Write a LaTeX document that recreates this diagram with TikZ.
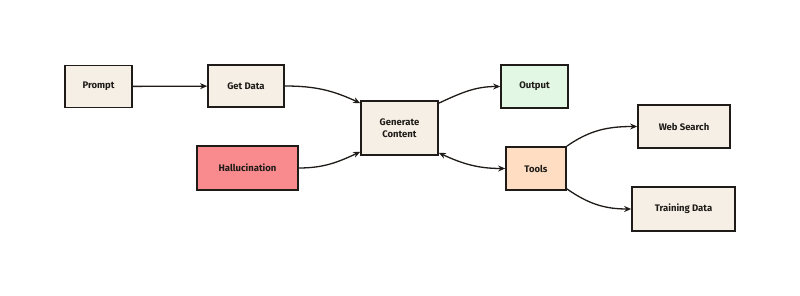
\documentclass[tikz,border=0pt]{standalone}
\usepackage{fontspec}
\setmainfont{Fira Sans}
\usetikzlibrary{arrows.meta}
\definecolor{beige}{HTML}{F6EFE5}
\definecolor{halred}{HTML}{F98B8E}
\definecolor{outgreen}{HTML}{E2F8E5}
\definecolor{toolpeach}{HTML}{FEDDC3}
\definecolor{ink}{HTML}{1E1B18}
\begin{document}
\begin{tikzpicture}[x=1pt,y=-1pt,
  box/.style={draw=ink,line width=1.7pt,fill=beige,minimum height=42pt,inner sep=2pt,align=center,font=\fontsize{9.5}{11.5}\selectfont\bfseries,text=ink},
  conn/.style={draw=ink,line width=1.3pt,-{Stealth[length=7pt,width=6pt]}}]
\useasboundingbox[fill=white] (0,0) rectangle (800,296);
\node[box,minimum width=67pt] (prompt) at (98.5,86.5) {Prompt};
\node[box,minimum width=76pt] (getdata) at (246,86) {Get Data};
\node[box,minimum width=77pt,minimum height=54pt] (gen) at (399.5,128) {Generate\\Content};
\node[box,fill=halred,minimum width=101pt,minimum height=44pt] (hall) at (247.5,168) {Hallucination};
\node[box,fill=outgreen,minimum width=67pt,minimum height=43pt] (out) at (534.5,86.5) {Output};
\node[box,fill=toolpeach,minimum width=60pt,minimum height=43pt] (tools) at (536,168.5) {Tools};
\node[box,minimum width=92pt,minimum height=43pt] (web) at (684,126.5) {Web Search};
\node[box,minimum width=103pt,minimum height=44pt] (train) at (683.5,209) {Training Data};

\draw[conn] (prompt) -- (getdata);
\draw[conn] (getdata.east) to[out=0,in=155] ([yshift=-3pt]gen.north west);
\draw[conn] (hall.east) to[out=0,in=205] ([yshift=4pt]gen.south west);
\draw[conn] ([yshift=-3pt]gen.north east) to[out=25,in=180] (out.west);
\draw[draw=ink,line width=1.3pt,{Stealth[length=7pt,width=6pt]}-{Stealth[length=7pt,width=6pt]}] ([yshift=3pt]gen.south east) to[out=-25,in=180] (tools.west);
\draw[conn] (tools.north east) to[out=35,in=180] (web.west);
\draw[conn] ([yshift=2pt]tools.south east) to[out=-35,in=180] (train.west);
\end{tikzpicture}
\end{document}
